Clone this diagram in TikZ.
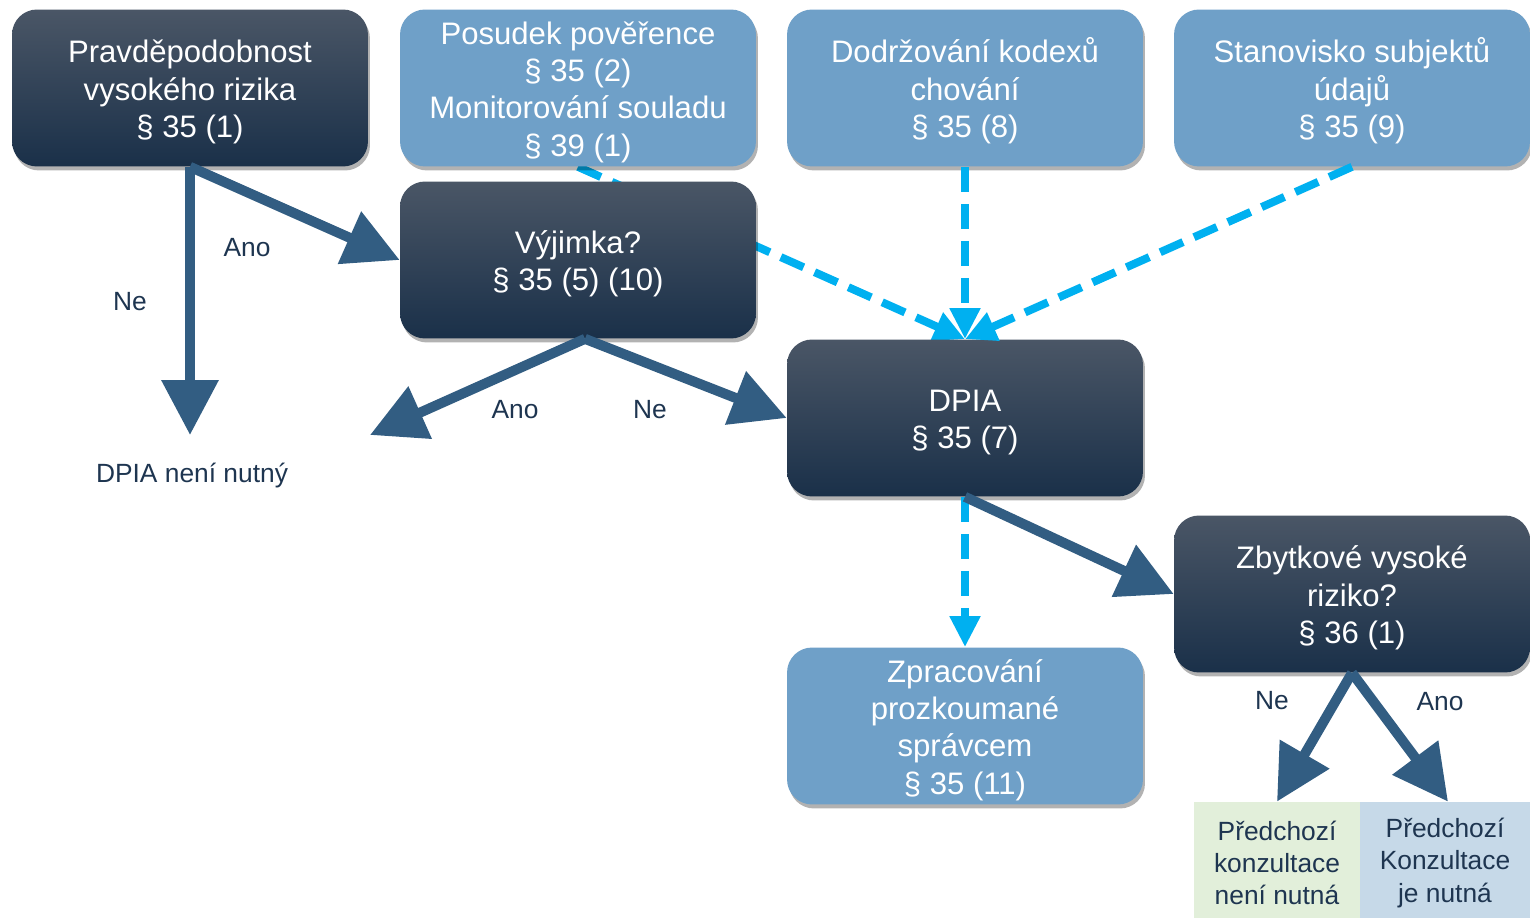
\documentclass[tikz,border=0pt]{standalone}
\usepackage{fontspec}
\setmainfont{Liberation Sans}
\usetikzlibrary{arrows.meta,shadows}
\definecolor{dtop}{RGB}{74,86,102}
\definecolor{dbot}{RGB}{26,48,73}
\definecolor{lblue}{RGB}{111,160,200}
\definecolor{arrowc}{RGB}{50,93,130}
\definecolor{cyanc}{RGB}{0,176,240}
\definecolor{greenc}{RGB}{226,239,218}
\definecolor{paleblue}{RGB}{198,217,232}
\definecolor{navy}{RGB}{30,53,80}
\pgfdeclarelayer{bg}
\pgfsetlayers{bg,main}
\newcommand{\bigstrut}{\rule{0pt}{17.5pt}}
\newcommand{\smallstrut}{\rule{0pt}{14.3pt}}
\begin{document}
\begin{tikzpicture}[x=0.02cm,y=-0.02cm,
  box/.style={rounded corners=0.5cm, minimum width=7.12cm, minimum height=3.14cm,
    align=center, text=white, inner sep=0pt,
    font=\fontsize{17.7pt}{21.3pt}\selectfont,
    drop shadow={shadow xshift=0.04cm, shadow yshift=-0.08cm, opacity=0.3, fill=black}},
  darkbox/.style={box, top color=dtop, middle color=dbot, bottom color=dbot},
  lightbox/.style={box, fill=lblue},
  smallbox/.style={minimum height=2.32cm, align=center, text=navy, inner sep=0pt,
    font=\fontsize{15pt}{18.4pt}\selectfont},
  lbl/.style={text=navy, font=\fontsize{15pt}{18pt}\selectfont, inner sep=0pt},
  flow/.style={draw=arrowc, line width=0.2cm, -{Triangle[length=1.1cm,width=1.1cm]}},
  dflow/.style={draw=cyanc, line width=0.16cm, dash pattern=on 0.5cm off 0.24cm,
    -{Triangle[length=0.62cm,width=0.58cm]}}
]
\useasboundingbox (0,0) rectangle (1530,918);

% nodes
\node[darkbox] (b1) at (190,88) {\bigstrut Pravděpodobnost\\vysokého rizika\\§ 35 (1)};
\node[lightbox] (b2) at (578,88) {\bigstrut Posudek pověřence\\§ 35 (2)\\Monitorování souladu\\§ 39 (1)};
\node[lightbox] (b3) at (965,88) {\bigstrut Dodržování kodexů\\chování\\§ 35 (8)};
\node[lightbox] (b4) at (1352,88) {\bigstrut Stanovisko subjektů\\údajů\\§ 35 (9)};
\node[darkbox] (vyj) at (578,260) {\bigstrut Výjimka?\\§ 35 (5) (10)};
\node[darkbox] (dpia) at (965,418) {\bigstrut DPIA\\§ 35 (7)};
\node[darkbox] (zb) at (1352,594) {\bigstrut Zbytkové vysoké\\riziko?\\§ 36 (1)};
\node[lightbox] (zp) at (965,726) {\bigstrut Zpracování\\prozkoumané\\správcem\\§ 35 (11)};
\node[smallbox, fill=greenc, minimum width=3.32cm] (gn) at (1277,860) {\smallstrut Předchozí\\konzultace\\není nutná};
\node[smallbox, fill=paleblue, minimum width=3.4cm] (bn) at (1445,860) {\smallstrut Předchozí\\Konzultace\\je nutná};

\node[lbl] (nn) at (192,476) {DPIA není nutný};
\coordinate (nnt) at (190,435);
\coordinate (anot) at (370,435);

% labels
\node[lbl] (l1) at (247,248) {Ano};
\node[lbl] (l2) at (130,302) {Ne};
\node[lbl] (l3) at (515,410) {Ano};
\node[lbl] (l4) at (650,410) {Ne};
\node[lbl] (l5) at (1272,701) {Ne};
\node[lbl] (l6) at (1440,702) {Ano};

% dashed connectors
\begin{pgfonlayer}{bg}
\draw[dflow] (b2.south) -- (dpia.north);
\end{pgfonlayer}
\draw[dflow] (b3.south) -- (dpia.north);
\draw[dflow] (b4.south) -- (dpia.north);
\draw[dflow] (dpia.south) -- (zp.north);

% solid connectors
\draw[flow] (b1.south) -- (nnt);
\draw[flow] (b1.south) -- (vyj.west);
\draw[flow] ([xshift=0.14cm]vyj.south) -- (anot);
\draw[flow] ([xshift=0.14cm]vyj.south) -- (dpia.west);
\draw[flow] (dpia.south) -- (zb.west);
\draw[flow] (zb.south) -- (gn.north);
\draw[flow] (zb.south) -- ([xshift=0.06cm]bn.north);
\end{tikzpicture}
\end{document}
